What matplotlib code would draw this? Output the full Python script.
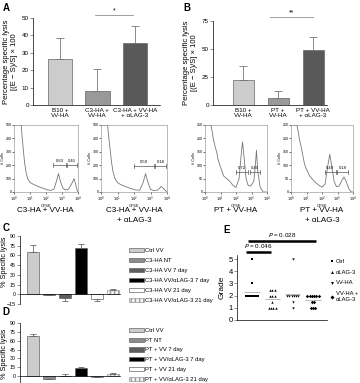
import numpy as np
import matplotlib.pyplot as plt

plt.rcParams['font.family'] = ['Liberation Sans', 'DejaVu Sans']
plt.rcParams['axes.linewidth'] = 0.5
plt.rcParams['xtick.major.width'] = 0.5
plt.rcParams['ytick.major.width'] = 0.5

# ---- panel A / B bar data ----
a_labels = ['B10 +\nVV-HA', 'C3-HA +\nVV-HA', 'C3-HA + VV-HA\n+ \u03b1LAG-3']
a_values = [26.5, 8, 35.5]
a_errors = [12, 12.5, 10]

b_labels = ['B10 +\nVV-HA', 'PT +\nVV-HA', 'PT + VV-HA\n+ \u03b1LAG-3']
b_values = [22, 6, 49]
b_errors = [12.5, 6.5, 12]

# ---- CFSE histograms (log10 CFSE, # cells) ----
a1_x = [0.0, 0.45, 0.5, 0.58, 0.66, 0.75, 0.85, 1.0, 1.2, 1.5, 1.8, 2.1, 2.3, 2.5, 2.65, 2.78, 2.9, 3.05, 3.2, 3.4, 3.6, 3.75, 3.85, 3.95, 4.0]
a1_y = [500, 500, 420, 320, 220, 150, 100, 72, 58, 42, 28, 16, 12, 22, 80, 137, 80, 30, 15, 20, 60, 100, 60, 10, 0]
a2_x = [0.0, 0.4, 0.46, 0.55, 0.64, 0.73, 0.85, 1.0, 1.2, 1.5, 1.8, 2.1, 2.35, 2.55, 2.7, 2.85, 3.0, 3.2, 3.45, 3.65, 3.8, 3.95, 4.0]
a2_y = [500, 500, 420, 320, 220, 150, 100, 70, 55, 40, 26, 15, 14, 70, 137, 70, 20, 10, 15, 42, 25, 5, 0]
b1_x = [0.0, 0.38, 0.45, 0.53, 0.65, 0.75, 0.85, 0.96, 1.2, 1.6, 1.8, 2.0, 2.2, 2.32, 2.42, 2.52, 2.65, 2.78, 2.95, 3.15, 3.25, 3.32, 3.4, 3.55, 3.75, 4.0]
b1_y = [250, 250, 230, 200, 170, 150, 120, 100, 60, 40, 25, 17, 50, 130, 187, 130, 50, 25, 22, 40, 100, 156, 80, 20, 0, 0]
b2_x = [0.0, 0.38, 0.45, 0.53, 0.65, 0.75, 0.85, 0.96, 1.2, 1.5, 1.8, 2.0, 2.2, 2.38, 2.5, 2.62, 2.78, 2.93, 3.1, 3.3, 3.42, 3.55, 3.75, 3.9, 4.0]
b2_y = [250, 250, 230, 200, 170, 140, 110, 90, 60, 40, 25, 18, 30, 100, 141, 100, 40, 20, 22, 45, 56, 40, 10, 0, 0]

a1_gates = [(2.45, 3.25, 200, '0.63'), (3.3, 3.95, 200, '0.45')]
a2_gates = [(2.0, 3.2, 195, '0.59'), (3.25, 3.95, 195, '0.18')]
b1_gates = [(2.03, 2.78, 75, '0.72'), (2.93, 3.53, 75, '0.45')]
b2_gates = [(2.19, 2.88, 75, '0.49'), (2.98, 3.68, 75, '0.18')]

# ---- panel C / D ----
c_labels = ['Ctrl VV', 'C3-HA NT', 'C3-HA VV 7 day', 'C3-HA VV/\u03b1LAG-3 7 day',
            'C3-HA VV 21 day', 'C3-HA VV/\u03b1LAG-3 21 day']
c_values = [65, -1, -6, 72, -8, 6]
c_errors = [11, 0, 5, 5, 2, 2]
d_labels = ['Ctrl VV', 'PT NT', 'PT + VV 7 day', 'PT + VV/\u03b1LAG-3 7 day',
            'PT + VV 21 day', 'PT + VV/\u03b1LAG-3 21 day']
d_values = [68, -4, 1, 14, -1, 3]
d_errors = [4, 0, 2, 2, 0, 2]

# ---- panel E grades ----
e_groups = ['Ctrl', '\u03b1LAG-3', 'VV-HA', 'VV-HA +\n\u03b1LAG-3']
e_ctrl = [5, 3, 2, 2, 2, 2, 2, 2, 2, 2, 2, 2]
e_alag = [2.5, 2.5, 2.5, 2, 2, 2, 1.5, 1, 1, 1, 1]
e_vv = [5, 2, 2, 2, 2, 2, 2, 1.5, 1]
e_vv_alag = [2, 2, 2, 2, 2, 2, 1.5, 1.5, 1, 1, 1]

W, H = 360, 383
fig = plt.figure(figsize=(W / 100, H / 100), dpi=100)


def px_axes(x0, y0, x1, y1):
    return fig.add_axes([x0 / W, 1 - y1 / H, (x1 - x0) / W, (y1 - y0) / H])


def bar_panel(box, labels, values, errors, ymax, step, width, xlim, colors):
    ax = px_axes(*box)
    x = np.arange(len(values))
    ax.bar(x, values, width=width, color=colors, edgecolor='#666', linewidth=0.5)
    ax.errorbar(x, values, yerr=[np.zeros(len(errors)), errors], fmt='none',
                ecolor='#777', elinewidth=0.6, capsize=3, capthick=0.6)
    ax.set_ylim(0, ymax)
    ax.set_xlim(*xlim)
    ax.set_yticks(np.arange(0, ymax + 1, step))
    ax.set_xticks(x)
    ax.set_xticklabels(labels, fontsize=4.5, linespacing=1.0)
    ax.tick_params(axis='x', length=0, pad=2)
    ax.tick_params(axis='y', labelsize=4.5, length=2, pad=1, color='#666')
    for s in ['top', 'right']:
        ax.spines[s].set_visible(False)
    ax.set_ylabel('Percentage specific lysis\n[(E \u2212 S)/S] \u00d7 100', fontsize=5.5, labelpad=3, linespacing=1.1)
    return ax


def hist_panel(x0, x1, xs, ys, ymax, step, gates):
    ax = px_axes(x0, 125, x1, 192)
    ax.plot(xs, ys, color='#777', lw=0.6)
    ax.set_xlim(0, 4)
    ax.set_ylim(0, ymax)
    ax.set_xticks(range(5))
    ax.set_xticklabels(['$10^{%d}$' % i for i in range(5)])
    ax.set_yticks(np.arange(0, ymax + 1, step))
    ax.tick_params(labelsize=2.6, length=1.5, pad=0.3, width=0.4)
    ax.set_xlabel('CFSE', fontsize=2.8, labelpad=0)
    ax.set_ylabel('# Cells', fontsize=2.8, labelpad=0.5)
    for s in ax.spines.values():
        s.set_linewidth(0.4)
        s.set_color('#888')
    for a, b, yg, lab in gates:
        h = ymax * 0.03
        ax.plot([a, b], [yg, yg], color='#555', lw=0.5)
        ax.plot([a, a], [yg - h, yg + h], color='#555', lw=0.5)
        ax.plot([b, b], [yg - h, yg + h], color='#555', lw=0.5)
        ax.text((a + b) / 2, yg + h, lab, ha='center', va='bottom', fontsize=3)
    return ax


# ---- A ----
axA = bar_panel((33, 18, 160, 105), a_labels, a_values, a_errors, 50, 10, 0.65,
                (-0.72, 2.67), ['#cccccc', '#999999', '#595959'])
axA.plot([0.93, 1.95], [51.8, 51.8], color='#777', lw=0.5, clip_on=False)
axA.text(1.44, 52, '*', ha='center', va='bottom', fontsize=5)

# ---- B ----
axB = bar_panel((213, 21, 327, 105), b_labels, b_values, b_errors, 75, 25, 0.6,
                (-0.86, 2.4), ['#cccccc', '#999999', '#595959'])
axB.plot([0.77, 2.0], [78.5, 78.5], color='#777', lw=0.5, clip_on=False)
axB.text(1.38, 79, '**', ha='center', va='bottom', fontsize=5)

hist_panel(14, 78, a1_x, a1_y, 500, 100, a1_gates)
hist_panel(101, 167, a2_x, a2_y, 500, 100, a2_gates)
hist_panel(205, 267, b1_x, b1_y, 250, 50, b1_gates)
hist_panel(291, 353, b2_x, b2_y, 250, 50, b2_gates)

tfs = 5.8
fig.text(45 / W, 1 - 211 / H, 'C3-HA + VV-HA', ha='center', va='center', fontsize=tfs)
fig.text(134 / W, 1 - 211 / H, 'C3-HA + VV-HA', ha='center', va='center', fontsize=tfs)
fig.text(134 / W, 1 - 221 / H, '+ \u03b1LAG-3', ha='center', va='center', fontsize=tfs)
fig.text(236 / W, 1 - 211 / H, 'PT + VV-HA', ha='center', va='center', fontsize=tfs)
fig.text(322 / W, 1 - 211 / H, 'PT + VV-HA', ha='center', va='center', fontsize=tfs)
fig.text(322 / W, 1 - 221 / H, '+ \u03b1LAG-3', ha='center', va='center', fontsize=tfs)

# ---- C / D ----
cd_colors = ['#cccccc', '#8c8c8c', '#5e5e5e', '#000000', '#ffffff', '#f4f4f4']


def cd_panel(box, labels, values, errors, legend_top, spacing, ymin_tick, label_y):
    ax = px_axes(*box)
    x = np.arange(len(values))
    bars = ax.bar(x, values, width=0.72, color=cd_colors, edgecolor='#666', linewidth=0.5)
    bars[5].set_hatch('||||')
    bars[5].set_edgecolor('#999')
    lo = [e if v < 0 else 0 for v, e in zip(values, errors)]
    hi = [e if v >= 0 else 0 for v, e in zip(values, errors)]
    ax.errorbar(x, values, yerr=[lo, hi], fmt='none', ecolor='#666',
                elinewidth=0.6, capsize=2, capthick=0.6)
    ax.set_ylim(-15, 90)
    ax.set_xlim(-0.8, 5.45)
    ax.set_yticks(np.arange(ymin_tick, 91, 15))
    ax.set_xticks([])
    ax.spines['bottom'].set_position(('data', 0))
    for s in ['top', 'right']:
        ax.spines[s].set_visible(False)
    ax.tick_params(axis='y', labelsize=3.8, length=2, pad=1, color='#666')
    ax.set_ylabel('% Specific lysis', fontsize=5.3)
    ax.yaxis.set_label_coords(-0.12, label_y)
    ax.legend(bars, labels, loc='upper left', bbox_to_anchor=(126 / W, 1 - legend_top / H),
              bbox_transform=fig.transFigure, fontsize=4.2, frameon=False, borderpad=0,
              handlelength=2.5, handleheight=0.7, handletextpad=0.3, labelspacing=spacing)
    return ax


cd_panel((20, 236, 120, 304), c_labels, c_values, c_errors, 245, 0.85, -15, 0.62)
cd_panel((20, 323, 120, 385), d_labels, d_values, d_errors, 325, 0.8, 0, 0.5)

# ---- E ----
axE = px_axes(237, 255.4, 327, 320)
e_data = [e_ctrl, e_alag, e_vv, e_vv_alag]
e_markers = ['s', '^', 'v', 'D']
handles = []
for i, vals in enumerate(e_data):
    vals = np.array(vals, dtype=float)
    xs = np.zeros(len(vals))
    for v in np.unique(vals):
        idx = np.where(vals == v)[0]
        w = min(0.3, 0.11 * (len(idx) - 1) / 2)
        xs[idx] = i + np.linspace(-w, w, len(idx))
    h = axE.scatter(xs, vals, marker=e_markers[i], s=3, color='black', linewidths=0)
    handles.append(h)
    axE.hlines(vals.mean(), i - 0.38, i + 0.38, color='#aaa', lw=0.6)
axE.set_xlim(-0.74, 3.69)
axE.set_ylim(0, 5.3)
axE.set_yticks(range(6))
axE.set_xticks([])
for s in ['top', 'right']:
    axE.spines[s].set_visible(False)
axE.tick_params(axis='y', labelsize=5.5, length=2, pad=1, color='#666')
axE.set_ylabel('Grade', fontsize=6, labelpad=2)
axE.legend(handles, e_groups, loc='upper left', bbox_to_anchor=(327 / W, 1 - 256 / H),
           bbox_transform=fig.transFigure, fontsize=4.2, frameon=False, borderpad=0,
           handlelength=0.7, handletextpad=0.3, labelspacing=0.95, markerscale=1.2)

axE.plot([-0.2, 3.16], [6.48, 6.48], color='black', lw=1.8, clip_on=False, solid_capstyle='butt')
axE.text(1.48, 6.62, '$P$ = 0.028', ha='center', va='bottom', fontsize=4.5)
axE.plot([-0.3, 0.94], [5.57, 5.57], color='black', lw=1.8, clip_on=False, solid_capstyle='butt')
axE.text(0.3, 5.71, '$P$ = 0.046', ha='center', va='bottom', fontsize=4.5)

# ---- panel letters ----
for lab, x, y in [('A', 3, 8), ('B', 183, 8), ('C', 3, 228), ('D', 2, 312), ('E', 223, 230)]:
    fig.text(x / W, 1 - y / H, lab, fontsize=7, fontweight='bold', va='center', ha='left')

fig.savefig('out.png', dpi=100)
